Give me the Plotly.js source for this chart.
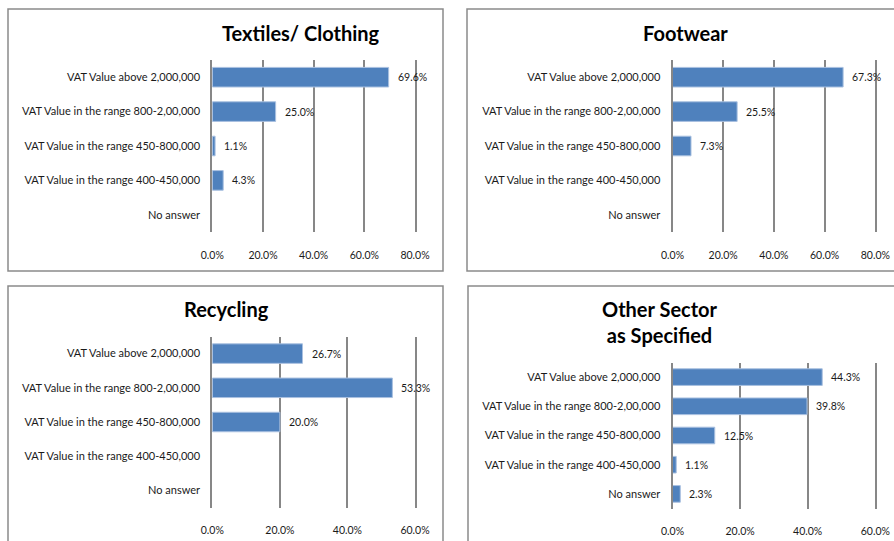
<!DOCTYPE html>
<html>
<head>
<meta charset="utf-8">
<script src="https://cdn.plot.ly/plotly-3.0.1.min.js"></script>
<style>
  html, body { margin: 0; padding: 0; background: #fff; }
  #chart { width: 894px; height: 541px; }
</style>
</head>
<body>
<div id="chart"></div>
<script>
// Response categories (shared by all four sector panels)
const categories = [
  "VAT Value above 2,000,000",
  "VAT Value in the range 800-2,00,000",
  "VAT Value in the range 450-800,000",
  "VAT Value in the range 400-450,000",
  "No answer"
];

// Share of respondents (%) per sector; null = no response in that band
const textilesValues = [69.6, 25.0, 1.1, 4.3, null];
const footwearValues = [67.3, 25.5, 7.3, null, null];
const recyclingValues = [26.7, 53.3, 20.0, null, null];
const otherValues = [44.3, 39.8, 12.5, 1.1, 2.3];

const panelTitles = ["Textiles/ Clothing", "Footwear", "Recycling", "Other Sector<br>as Specified"];
const axisMax = [80, 80, 60, 60];

const W = 894, H = 541;
const px = v => v / W;
const py = v => 1 - v / H;

// Panel geometry in pixels: plot area [x0, x1, y0, y1], outer frame, title centre
const panels = [
  { values: textilesValues, plot: [212.3, 415, 60, 232], frame: [8, 443, 9, 271], title: [301, 33] },
  { values: footwearValues, plot: [672.5, 875.3, 60, 232], frame: [467, 900, 9, 271], title: [685, 33] },
  { values: recyclingValues, plot: [212.3, 415, 336.5, 507.5], frame: [8, 443, 286, 560], title: [226, 309] },
  { values: otherValues, plot: [672.5, 875.3, 362.5, 508.5], frame: [468, 900, 286, 560], title: [660, 322] }
];

const FONT = "Lato, 'Open Sans', sans-serif";
const TXT = "#1a1a1a";
const BAR = "#4f81bd";
const GRID = "#878787";

const data = [];
const annotations = [];
const shapes = [];
const layout = {
  width: W, height: H,
  margin: { l: 0, r: 0, t: 0, b: 0 },
  paper_bgcolor: "#ffffff",
  plot_bgcolor: "rgba(0,0,0,0)",
  showlegend: false,
  font: { family: FONT, color: TXT, size: 10 }
};

panels.forEach((p, i) => {
  const n = i === 0 ? "" : String(i + 1);
  const xa = "x" + n, ya = "y" + n;

  data.push({
    type: "bar",
    orientation: "h",
    x: p.values,
    y: categories,
    xaxis: xa, yaxis: ya,
    width: 0.57,
    marker: { color: BAR, line: { color: "#a9c0e0", width: 1 } },
    hoverinfo: "none"
  });

  layout["xaxis" + n] = {
    domain: [px(p.plot[0]), px(p.plot[1])],
    anchor: ya,
    range: [0, axisMax[i]],
    tick0: 0, dtick: 20,
    tickformat: ".1f", ticksuffix: "%",
    showgrid: true, gridcolor: GRID, gridwidth: 2,
    zeroline: false, showline: false,
    ticks: "outside", ticklen: 13, tickcolor: "rgba(0,0,0,0)",
    tickfont: { family: FONT, size: 10.5, color: TXT },
    fixedrange: true
  };
  // the category axis line (mirrored) gives the 0% and end-of-scale verticals
  layout["yaxis" + n] = {
    domain: [py(p.plot[3]), py(p.plot[2])],
    anchor: xa,
    type: "category",
    categoryorder: "array", categoryarray: categories,
    range: [4.5, -0.5],
    showgrid: false, zeroline: false,
    showline: true, mirror: true, linecolor: GRID, linewidth: 2,
    ticks: "outside", ticklen: 8, tickcolor: "rgba(0,0,0,0)",
    tickfont: { family: FONT, size: 11, color: TXT },
    fixedrange: true
  };

  // value labels just past each bar end
  p.values.forEach((v, k) => {
    if (v === null) return;
    annotations.push({
      xref: xa, yref: ya, x: v, y: categories[k],
      text: v.toFixed(1) + "%",
      showarrow: false, xanchor: "left", yanchor: "middle",
      xshift: 7,
      font: { family: FONT, size: 10.5, color: TXT }
    });
  });

  // panel title
  annotations.push({
    xref: "paper", yref: "paper",
    x: px(p.title[0]), y: py(p.title[1]),
    xanchor: "center", yanchor: "middle",
    text: "<b>" + panelTitles[i] + "</b>",
    showarrow: false,
    font: { family: FONT, size: 20, color: "#000" }
  });

  // panel frame
  shapes.push({
    type: "rect", xref: "paper", yref: "paper",
    x0: px(p.frame[0]), x1: px(p.frame[1]),
    y0: py(p.frame[3]), y1: py(p.frame[2]),
    line: { color: "#8a8a8a", width: 1.5 },
    fillcolor: "rgba(0,0,0,0)",
    layer: "below"
  });
});

layout.annotations = annotations;
layout.shapes = shapes;

Plotly.newPlot("chart", data, layout, { staticPlot: true, displayModeBar: false });
</script>
</body>
</html>
